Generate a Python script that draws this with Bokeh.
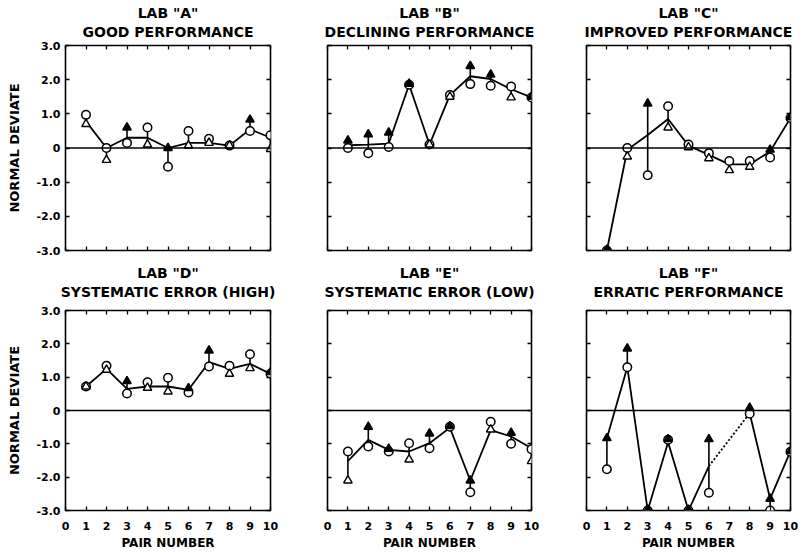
import math
from bokeh.plotting import figure
from bokeh.models import Range1d, FixedTicker, LinearAxis, Title, Span, ColumnDataSource
from bokeh.layouts import column, row
from bokeh.embed import file_html
from bokeh.resources import INLINE

nan = float("nan")

pairs = [1, 2, 3, 4, 5, 6, 7, 8, 9, 10]

lab_names = ['LAB "A"', 'LAB "B"', 'LAB "C"', 'LAB "D"', 'LAB "E"', 'LAB "F"']
lab_subtitles = ["GOOD PERFORMANCE", "DECLINING PERFORMANCE", "IMPROVED PERFORMANCE",
                 "SYSTEMATIC ERROR (HIGH)", "SYSTEMATIC ERROR (LOW)", "ERRATIC PERFORMANCE"]

# open circle = first sample of the pair, triangle = second sample, line = plotted pair value
circ_a = [0.97, 0.0, 0.15, 0.6, -0.55, 0.5, 0.27, 0.07, 0.5, 0.37]
tri_a = [0.7, -0.35, 0.6, 0.1, 0.0, 0.07, 0.15, 0.07, 0.83, -0.03]
line_a = [0.78, 0.0, 0.3, 0.3, 0.0, 0.15, 0.15, 0.07, 0.55, 0.3]

circ_b = [0.0, -0.15, 0.03, 1.85, 0.1, 1.55, 1.87, 1.82, 1.8, 1.48]
tri_b = [0.22, 0.4, 0.45, 1.88, 0.1, 1.5, 2.4, 2.15, 1.48, 1.5]
line_b = [0.08, 0.1, 0.13, 1.85, 0.1, 1.55, 2.1, 2.02, 1.72, 1.48]

circ_c = [-3.0, 0.0, -0.8, 1.22, 0.1, -0.15, -0.38, -0.38, -0.28, 0.88]
tri_c = [-2.98, -0.25, 1.3, 0.6, 0.02, -0.3, -0.65, -0.55, -0.05, 0.9]
line_c = [-3.0, -0.05, 0.38, 0.85, 0.07, -0.2, -0.48, -0.48, -0.1, 0.88]

circ_d = [0.72, 1.34, 0.51, 0.85, 0.98, 0.54, 1.32, 1.34, 1.69, 1.1]
tri_d = [0.72, 1.22, 0.88, 0.68, 0.57, 0.67, 1.8, 1.1, 1.27, 1.15]
line_d = [0.72, 1.25, 0.65, 0.72, 0.72, 0.62, 1.45, 1.25, 1.4, 1.1]

circ_e = [-1.23, -1.08, -1.23, -0.98, -1.13, -0.49, -2.45, -0.34, -1.0, -1.16]
tri_e = [-2.1, -0.49, -1.15, -1.47, -0.69, -0.47, -2.1, -0.57, -0.67, -1.52]
line_e = [-1.52, -0.88, -1.18, -1.23, -0.98, -0.52, -2.1, -0.59, -0.78, -1.13]

circ_f = [-1.76, 1.3, -3.0, -0.88, -3.0, -2.47, nan, -0.1, -3.0, -1.24]
tri_f = [-0.83, 1.86, -2.98, -0.86, -2.98, -0.86, nan, 0.08, -2.65, -1.22]
line_f = [-0.83, 1.3, -3.0, -0.95, -3.0, -1.67, nan, -0.08, -2.65, -1.22]

y_ticks = [-3, -2, -1, 0, 1, 2, 3]
y_tick_labels = {3: "3.0", 2: "2.0", 1: "1.0", 0: "0", -1: "-1.0", -2: "-2.0", -3: "-3.0"}
x_ticks = [0, 1, 2, 3, 4, 5, 6, 7, 8, 9, 10]
x_title = "PAIR NUMBER"
y_title = "NORMAL DEVIATE"

FONT = "DejaVu Sans"
widths = [298, 260, 244]
lefts = [65, 29, 28]
rights = [28, 27, 12]
heights = [262, 290]
tops = [45, 47]
bottoms = [12, 41]
sub_gap = [6, 11]
title_standoff = [0, 0]


def labelled_axis(ax, ticks):
    ax.ticker = FixedTicker(ticks=ticks)
    ax.major_tick_in = 4
    ax.major_tick_out = 0
    ax.minor_tick_line_color = None
    ax.major_tick_line_color = "black"
    ax.major_tick_line_width = 1.3
    ax.axis_line_color = None
    ax.major_label_text_font = FONT
    ax.major_label_text_font_style = "bold"
    ax.major_label_text_color = "black"
    ax.major_label_text_font_size = "11px"
    ax.major_label_standoff = 5
    ax.axis_label_text_font = FONT
    ax.axis_label_text_font_style = "bold"
    ax.axis_label_text_color = "black"


def tick_only_axis(ax, ticks):
    # inner ticks drawn as minor ticks, so the axis carries no tick labels
    ax.ticker = FixedTicker(ticks=[], minor_ticks=ticks)
    ax.major_tick_in = 0
    ax.major_tick_out = 0
    ax.minor_tick_in = 4
    ax.minor_tick_out = 0
    ax.minor_tick_line_color = "black"
    ax.minor_tick_line_width = 1.3
    ax.axis_line_color = None
    ax.major_label_standoff = 0
    ax.axis_label_text_font = FONT
    ax.axis_label_text_font_style = "bold"
    ax.axis_label_text_color = "black"


def make_panel(k, circ, tri, line):
    ci, ri = k % 3, k // 3
    p = figure(width=widths[ci], height=heights[ri],
               x_range=Range1d(0, 10), y_range=Range1d(-3, 3),
               output_backend="svg", toolbar_location=None, title=None,
               min_border_left=lefts[ci], min_border_right=rights[ci],
               min_border_top=tops[ri], min_border_bottom=bottoms[ri])
    p.xgrid.grid_line_color = None
    p.ygrid.grid_line_color = None
    p.outline_line_color = "black"
    p.outline_line_width = 1.6
    p.background_fill_color = "white"
    p.border_fill_color = "white"

    bx = p.xaxis[0]
    if ri == 1:
        labelled_axis(bx, x_ticks)
        bx.axis_label = x_title
        bx.axis_label_text_font_size = "12px"
        bx.major_label_standoff = 11
        bx.axis_label_standoff = 3
    else:
        tick_only_axis(bx, x_ticks)
    ly = p.yaxis[0]
    if ci == 0:
        labelled_axis(ly, y_ticks)
        ly.major_label_overrides = y_tick_labels
        ly.axis_label = y_title
        ly.axis_label_text_font_size = "13px"
        ly.axis_label_standoff = 11
    else:
        tick_only_axis(ly, y_ticks)

    # top axis: inner ticks, and the descriptive subtitle as its label
    top_ax = LinearAxis()
    tick_only_axis(top_ax, x_ticks)
    top_ax.axis_label = lab_subtitles[k]
    top_ax.axis_label_text_font_size = "14px"
    top_ax.axis_label_standoff = sub_gap[ri]
    p.add_layout(top_ax, "above")
    right_ax = LinearAxis()
    tick_only_axis(right_ax, y_ticks)
    p.add_layout(right_ax, "right")

    p.add_layout(Title(text=lab_names[k], align="center", text_font=FONT,
                       text_font_style="bold", text_font_size="14px",
                       text_color="black", standoff=title_standoff[ri]), "above")

    p.add_layout(Span(location=0, dimension="width", line_color="black", line_width=1.3))

    # connecting line, with a dotted bridge over missing pairs
    p.line(pairs, line, line_color="black", line_width=1.8)
    valid = [i for i, v in enumerate(line) if not math.isnan(v)]
    for a, b in zip(valid[:-1], valid[1:]):
        if b - a > 1:
            p.line([pairs[a], pairs[b]], [line[a], line[b]], line_color="black",
                   line_width=1.8, line_dash="2 2")

    src = ColumnDataSource(dict(
        x=pairs, c=circ, t=tri,
        tf=["black" if (t > c) else "white" for c, t in zip(circ, tri)],
    ))
    p.segment(x0="x", y0="c", x1="x", y1="t", source=src, line_color="black", line_width=1.6)
    p.scatter(x="x", y="c", source=src, marker="circle", size=8.5,
              fill_color="white", line_color="black", line_width=1.5)
    p.scatter(x="x", y="t", source=src, marker="triangle", size=8.5,
              fill_color="tf", line_color="black", line_width=1.4)
    return p


series = [(circ_a, tri_a, line_a), (circ_b, tri_b, line_b), (circ_c, tri_c, line_c),
          (circ_d, tri_d, line_d), (circ_e, tri_e, line_e), (circ_f, tri_f, line_f)]
panels = [make_panel(k, *s) for k, s in enumerate(series)]

layout = column(row(*panels[0:3], spacing=0), row(*panels[3:6], spacing=0), spacing=0)

open("out.html", "w").write(file_html(layout, INLINE))
